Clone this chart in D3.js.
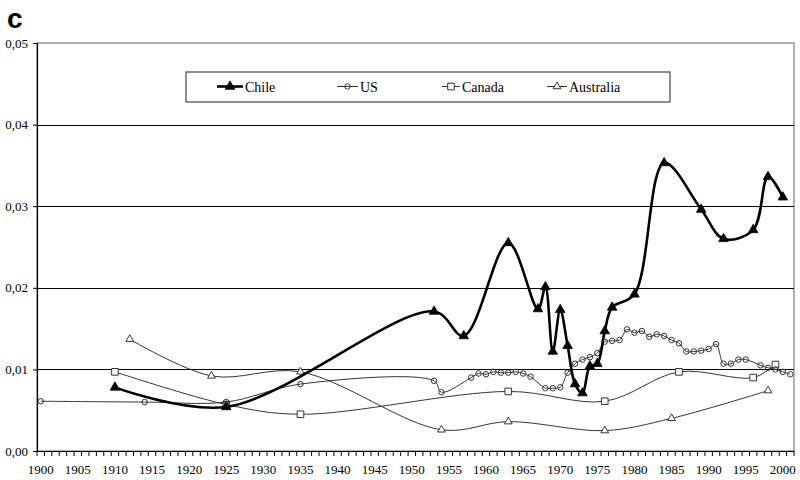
<!DOCTYPE html>
<html>
<head>
<meta charset="utf-8">
<script src="https://cdn.jsdelivr.net/npm/d3@7"></script>
<style>
  body { margin: 0; background: #fff; }
  svg { display: block; }
</style>
</head>
<body>
<svg id="chart" width="800" height="480"></svg>
<script>
// Category axis: one slot per year, 1900–2001
const years = d3.range(1900, 2002);
const yearLabels = years.filter(y => y % 5 === 0);
const yTicks = [0, 0.01, 0.02, 0.03, 0.04, 0.05];

const chileYears = [1910, 1925, 1953, 1957, 1963, 1967, 1968, 1969, 1970, 1971, 1972, 1973,
  1974, 1975, 1976, 1977, 1980, 1984, 1989, 1992, 1996, 1998, 2000];
const chileValues = [0.0078, 0.0054, 0.0171, 0.0141, 0.0255, 0.0174, 0.0201, 0.0122, 0.0173, 0.0129,
  0.0082, 0.0071, 0.0104, 0.0107, 0.0147, 0.0176, 0.0192, 0.0353, 0.0296, 0.0260, 0.0271, 0.0336, 0.0311];

const usYears = [1900, 1914, 1925, 1935, 1953, 1954, 1958, 1959, 1960, 1961, 1962, 1963, 1964, 1965,
  1966, 1968, 1969, 1970, 1971, 1972, 1973, 1974, 1975, 1976, 1977, 1978, 1979, 1980, 1981, 1982,
  1983, 1984, 1985, 1986, 1987, 1988, 1989, 1990, 1991, 1992, 1993, 1994, 1995, 1997, 1998, 1999,
  2000, 2001];
const usValues = [0.0061, 0.0060, 0.0060, 0.0082, 0.0086, 0.0072, 0.0090, 0.0095, 0.0094, 0.0097,
  0.0096, 0.0096, 0.0097, 0.0095, 0.0091, 0.0077, 0.0077, 0.0078, 0.0096, 0.0107, 0.0112, 0.0115,
  0.0120, 0.0134, 0.0135, 0.0136, 0.0149, 0.0145, 0.0147, 0.0140, 0.0143, 0.0141, 0.0136, 0.0132,
  0.0122, 0.0122, 0.0123, 0.0125, 0.0131, 0.0107, 0.0107, 0.0112, 0.0112, 0.0105, 0.0102, 0.0100,
  0.0097, 0.0094];

const canadaYears = [1910, 1925, 1935, 1963, 1976, 1986, 1996, 1999];
const canadaValues = [0.0097, 0.0057, 0.0045, 0.0073, 0.0061, 0.0097, 0.0090, 0.0106];

const australiaYears = [1912, 1923, 1935, 1954, 1963, 1976, 1985, 1998];
const australiaValues = [0.0137, 0.0092, 0.0097, 0.0026, 0.0036, 0.0025, 0.0040, 0.0074];

const series = [
  { name: "Chile", years: chileYears, values: chileValues, marker: "triFilled", width: 2.6, color: "#000" },
  { name: "US", years: usYears, values: usValues, marker: "circle", width: 1, color: "#333" },
  { name: "Canada", years: canadaYears, values: canadaValues, marker: "square", width: 1, color: "#333" },
  { name: "Australia", years: australiaYears, values: australiaValues, marker: "triOpen", width: 1, color: "#333" }
];

const SERIF = "'Liberation Serif', 'Times New Roman', serif";
const svg = d3.select("#chart");
const plot = { left: 37, right: 794, top: 43, bottom: 451 };

const x = d3.scaleBand().domain(years).range([plot.left, plot.right]).padding(0);
const xc = yr => x(yr) + x.bandwidth() / 2;
const y = d3.scaleLinear().domain([0, 0.05]).range([plot.bottom, plot.top]);

const commaFmt = d3.formatLocale({ decimal: ",", thousands: ".", grouping: [3], currency: ["", ""] }).format(".2f");

// panel letter
svg.append("text").attr("x", 7).attr("y", 28)
  .style("font-family", "'Liberation Sans', Arial, sans-serif").style("font-weight", "bold")
  .style("font-size", "28px").attr("fill", "#000").text("c");

// plot frame
svg.append("rect")
  .attr("x", plot.left).attr("y", plot.top)
  .attr("width", plot.right - plot.left).attr("height", plot.bottom - plot.top)
  .attr("fill", "none").attr("stroke", "#888").attr("stroke-width", 1.3);

// horizontal gridlines
svg.append("g").selectAll("line").data(yTicks.filter(v => v > 0 && v < 0.05)).join("line")
  .attr("x1", plot.left).attr("x2", plot.right)
  .attr("y1", d => Math.round(y(d)) + 0.5).attr("y2", d => Math.round(y(d)) + 0.5)
  .attr("stroke", "#000").attr("stroke-width", 1.2);

// y axis
const yAxis = svg.append("g").attr("transform", `translate(${plot.left},0)`)
  .call(d3.axisLeft(y).tickValues(yTicks).tickSize(4).tickPadding(5).tickFormat(commaFmt));
yAxis.select(".domain").attr("stroke", "#000").attr("stroke-width", 1.2);
yAxis.selectAll(".tick line").attr("stroke", "#000");
yAxis.selectAll(".tick text").style("font-family", SERIF).style("font-size", "13px").attr("fill", "#000");

// x axis: labels every five years, tick marks between categories
const xAxis = svg.append("g").attr("transform", `translate(0,${plot.bottom})`)
  .call(d3.axisBottom(x).tickValues(yearLabels).tickSize(0).tickPadding(14));
xAxis.select(".domain").attr("stroke", "#000").attr("stroke-width", 1.2);
xAxis.selectAll(".tick text").style("font-family", SERIF).style("font-size", "13px").attr("fill", "#000");
xAxis.selectAll("line.cat").data(years.concat([null])).join("line").attr("class", "cat")
  .attr("x1", d => d === null ? plot.right : x(d)).attr("x2", d => d === null ? plot.right : x(d))
  .attr("y1", 0).attr("y2", 5).attr("stroke", "#000").attr("stroke-width", 1);

// marker shapes
const markerPath = {
  triFilled: d3.symbol(d3.symbolTriangle, 40)(),
  triOpen: d3.symbol(d3.symbolTriangle, 26)(),
  circle: d3.symbol(d3.symbolCircle, 24)(),
  square: d3.symbol(d3.symbolSquare, 44)()
};
function drawMarker(g, type, color) {
  g.append("path").attr("d", markerPath[type])
    .attr("fill", type === "triFilled" ? color : "#fff")
    .attr("fill-opacity", type === "circle" ? 0 : 1)
    .attr("stroke", color).attr("stroke-width", type === "triFilled" ? 0.8 : 1);
}

const line = d3.line().curve(d3.curveCatmullRom.alpha(0.5));

// thin series first, Chile on top
[series[3], series[2], series[1], series[0]].forEach(s => {
  const pts = s.years.map((yr, i) => [xc(yr), y(s.values[i])]);
  const g = svg.append("g");
  g.append("path").attr("d", line(pts)).attr("fill", "none")
    .attr("stroke", s.color).attr("stroke-width", s.width).attr("stroke-linejoin", "round");
  pts.forEach(p => {
    const m = g.append("g").attr("transform", `translate(${p[0]},${p[1]})`);
    drawMarker(m, s.marker, s.color);
  });
});

// legend
const legend = svg.append("g");
legend.append("rect").attr("x", 186).attr("y", 72).attr("width", 484).attr("height", 30)
  .attr("fill", "#fff").attr("stroke", "#444").attr("stroke-width", 1.2);
const legendPos = [
  { x1: 217, x2: 243, tx: 245 },
  { x1: 337, x2: 358, tx: 360 },
  { x1: 442, x2: 460, tx: 462 },
  { x1: 547, x2: 567, tx: 569 }
];
series.forEach((s, i) => {
  const p = legendPos[i];
  const ly = 86.5;
  legend.append("line").attr("x1", p.x1).attr("x2", p.x2).attr("y1", ly).attr("y2", ly)
    .attr("stroke", s.color).attr("stroke-width", s.width);
  const m = legend.append("g").attr("transform", `translate(${(p.x1 + p.x2) / 2},${ly})`);
  drawMarker(m, s.marker, s.color);
  legend.append("text").attr("x", p.tx).attr("y", 91.5)
    .style("font-family", SERIF).style("font-size", "14px").attr("fill", "#000").text(s.name);
});
</script>
</body>
</html>
